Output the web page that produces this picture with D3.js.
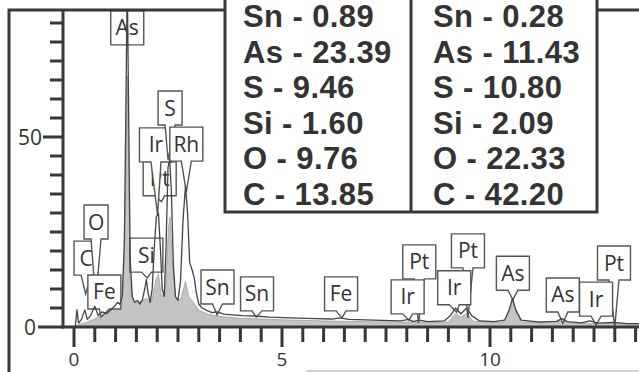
<!DOCTYPE html>
<html>
<head>
<meta charset="utf-8">
<script src="https://cdn.jsdelivr.net/npm/d3@7"></script>
<style>
  body { margin: 0; background: #fff; }
  svg { display: block; }
</style>
</head>
<body>
<div id="chart"></div>
<script>
// spectrum with peaks (outline trace), [keV, counts]
const lineSpectrum = [
  [0.03, 0], [0.07, 4.5], [0.11, 1], [0.18, 2], [0.26, 4.5], [0.32, 2], [0.40, 3],
  [0.50, 5.5], [0.58, 3], [0.68, 4], [0.78, 3.5], [0.88, 4.5], [0.98, 5.5], [1.05, 6.5],
  [1.10, 6], [1.16, 8], [1.21, 22], [1.25, 60], [1.28, 92], [1.31, 60], [1.35, 18],
  [1.40, 8], [1.46, 6.5], [1.52, 7], [1.58, 6], [1.64, 7], [1.70, 10], [1.74, 12.5],
  [1.78, 9], [1.83, 6.5], [1.88, 10], [1.93, 21], [1.98, 29], [2.03, 30], [2.08, 20],
  [2.12, 10], [2.17, 8], [2.21, 20], [2.26, 42], [2.30, 44], [2.34, 36], [2.39, 16],
  [2.44, 8], [2.50, 7], [2.56, 12], [2.62, 28], [2.68, 37], [2.73, 30], [2.78, 17],
  [2.84, 15], [2.89, 13], [2.94, 9], [3.00, 6], [3.08, 5], [3.20, 4.3], [3.32, 3.8],
  [3.44, 4.0], [3.60, 3.4], [3.80, 3.2], [4.05, 3.0], [4.35, 2.9], [4.70, 2.6],
  [5.20, 2.4], [5.80, 2.2], [6.20, 2.1], [6.40, 2.4], [6.60, 2.0], [7.20, 1.8],
  [7.85, 1.6], [8.05, 2.0], [8.15, 1.4], [8.30, 1.8], [8.50, 1.4], [8.90, 1.6],
  [9.05, 3.0], [9.17, 5], [9.30, 3.5], [9.44, 5], [9.56, 3.0], [9.75, 1.6],
  [10.10, 1.4], [10.35, 1.8], [10.46, 4.5], [10.54, 7.5], [10.62, 4.5], [10.75, 1.8],
  [11.20, 1.3], [11.60, 1.5], [11.73, 2.2], [11.86, 1.4], [12.20, 1.1], [12.40, 1.6],
  [12.60, 1.0], [12.97, 1.2], [13.30, 0.9], [13.70, 0.9]
];

// second spectrum (grey filled), [keV, counts]
const fillSpectrum = [
  [0.03, 0], [0.10, 0.6], [0.30, 1.2], [0.50, 2.2], [0.70, 3.2], [0.90, 4.5],
  [1.05, 6], [1.16, 7.5], [1.21, 18], [1.25, 45], [1.28, 66], [1.31, 45], [1.35, 12],
  [1.42, 6.5], [1.55, 6.5], [1.74, 7.5], [1.86, 6.5], [1.96, 12], [2.03, 14],
  [2.10, 8], [2.20, 9], [2.27, 26], [2.31, 29], [2.36, 18], [2.44, 7.5], [2.56, 7],
  [2.68, 12], [2.76, 8], [2.90, 6], [3.00, 4.5], [3.20, 3.4], [3.50, 2.8],
  [4.00, 2.3], [5.00, 1.9], [6.00, 1.6], [7.00, 1.4], [8.00, 1.3], [9.00, 1.3],
  [9.17, 3.5], [9.30, 2.6], [9.44, 3.6], [9.60, 1.5], [10.30, 1.2], [10.46, 4],
  [10.54, 7], [10.62, 4], [10.75, 1.3], [11.73, 1.5], [12.00, 1.0], [13.70, 0.8]
];

// peak labels: element, box centre keV, box top (counts), tip keV, tip counts
const peakLabels = [
  ["Pt", 2.06, 43.5, 2.10, 33],
  ["Ir", 1.97, 52.4, 2.01, 29.5],
  ["S", 2.31, 62.1, 2.26, 44],
  ["Rh", 2.70, 52.6, 2.70, 35.5],
  ["C", 0.29, 22.6, 0.28, 8.7],
  ["O", 0.53, 32.1, 0.52, 7],
  ["Fe", 0.73, 13.7, 0.65, 2.6],
  ["Si", 1.74, 23.4, 1.76, 12.9],
  ["Sn", 3.45, 15, 3.44, 3.2],
  ["Sn", 4.40, 13.2, 4.38, 2.6],
  ["Fe", 6.42, 13.2, 6.44, 2.4],
  ["Pt", 8.30, 21.6, 8.28, 1.0],
  ["Ir", 8.02, 12.4, 8.05, 1.8],
  ["Pt", 9.47, 24.5, 9.47, 2.4],
  ["Ir", 9.14, 14.8, 9.20, 3.9],
  ["As", 10.55, 18.6, 10.55, 7.2],
  ["As", 11.75, 12.9, 11.75, 1.0],
  ["Pt", 12.98, 21.3, 13.00, 0],
  ["Ir", 12.55, 11.8, 12.55, 0.5],
  ["As", 1.28, 83.2, 1.28, 74.5]
];

// composition table
const tableElements = ["Sn", "As", "S", "Si", "O", "C"];
const sampleA = ["0.89", "23.39", "9.46", "1.60", "9.76", "13.85"];
const sampleB = ["0.28", "11.43", "10.80", "2.09", "22.33", "42.20"];

const xTicks = d3.range(0, 13.51, 0.5);
const xLabels = [0, 5, 10];
const yTicks = d3.range(0, 80.1, 5);
const yLabels = [0, 50];

const W = 639, H = 372;
const dark = "#383838";

const svg = d3.select("#chart").append("svg")
  .attr("width", W).attr("height", H);

const x = d3.scaleLinear().domain([0, 10]).range([74, 490]);
const y = d3.scaleLinear().domain([0, 50]).range([327, 137]);

const plotTop = 10, axisX = 63;

svg.append("clipPath").attr("id", "plot")
  .append("rect").attr("x", axisX).attr("y", plotTop)
  .attr("width", W - axisX).attr("height", y(0) - plotTop);

// grey filled spectrum
const area = d3.area().x(d => x(d[0])).y0(y(0)).y1(d => y(d[1]));
svg.append("path")
  .datum(fillSpectrum)
  .attr("clip-path", "url(#plot)")
  .attr("d", area)
  .attr("fill", "#c4c4c4")
  .attr("stroke", "#a0a0a0")
  .attr("stroke-width", 0.8);

// peak callouts
const callouts = svg.append("g").attr("font-family", "'Open Sans', 'DejaVu Sans', sans-serif")
  .attr("font-size", 21);
peakLabels.forEach(function (p) {
  const cx = x(p[1]);
  const top = y(p[2]);
  const w = p[0].length > 1 ? 33 : 24;
  const h = 34;
  const x0 = cx - w / 2, x1 = cx + w / 2, y1 = top + h;
  const tx = x(p[3]), ty = y(p[4]);
  let d;
  if (ty > y1 + 1) {
    d = `M${x0},${top}H${x1}V${y1}H${cx + 5}L${tx},${ty}L${cx - 5},${y1}H${x0}Z`;
  } else {
    d = `M${x0},${top}H${x1}V${y1}H${x0}Z`;
  }
  callouts.append("path")
    .attr("d", d)
    .attr("fill", "#fff")
    .attr("stroke", "#555")
    .attr("stroke-width", 1.4)
    .attr("stroke-linejoin", "miter");
  callouts.append("text")
    .attr("x", cx)
    .attr("y", top + h / 2 + 7.5)
    .attr("text-anchor", "middle")
    .attr("fill", "#333")
    .text(p[0]);
});

// outline spectrum
const line = d3.line().x(d => x(d[0])).y(d => y(d[1]));
svg.append("path")
  .datum(lineSpectrum)
  .attr("clip-path", "url(#plot)")
  .attr("d", line)
  .attr("fill", "none")
  .attr("stroke", "#444")
  .attr("stroke-width", 1.3)
  .attr("stroke-linejoin", "round");

// axes
const axes = svg.append("g").attr("stroke", dark).attr("stroke-width", 3);
axes.append("line").attr("x1", axisX).attr("x2", axisX).attr("y1", plotTop).attr("y2", y(0) + 1.5);
axes.append("line").attr("x1", axisX - 1.5).attr("x2", W).attr("y1", y(0)).attr("y2", y(0));

axes.selectAll(".yt").data(yTicks).enter().append("line")
  .attr("x1", d => d === 0 ? 38 : (yLabels.includes(d) ? 43 : 50))
  .attr("x2", axisX)
  .attr("y1", d => y(d)).attr("y2", d => y(d));

axes.selectAll(".xt").data(xTicks).enter().append("line")
  .attr("x1", d => x(d)).attr("x2", d => x(d))
  .attr("y1", y(0))
  .attr("y2", d => xLabels.includes(d) ? 347 : 342);

const tickFont = "'Open Sans', 'DejaVu Sans', sans-serif";
svg.selectAll(".yl").data(yLabels).enter().append("text")
  .attr("x", d => d === 0 ? 36 : 42)
  .attr("y", d => y(d) + 8)
  .attr("text-anchor", "end")
  .attr("font-family", tickFont).attr("font-size", 21)
  .attr("fill", "#333")
  .text(d => d);

svg.selectAll(".xl").data(xLabels).enter().append("text")
  .attr("x", d => x(d))
  .attr("y", 366)
  .attr("text-anchor", "middle")
  .attr("font-family", tickFont).attr("font-size", 19)
  .attr("fill", "#333")
  .text(d => d);

// light rule under the axis labels
svg.append("line").attr("x1", 306).attr("x2", W).attr("y1", 371).attr("y2", 371)
  .attr("stroke", "#aaa").attr("stroke-width", 1.2);

// outer frame
const frame = svg.append("g").attr("stroke", dark).attr("stroke-width", 3).attr("fill", "none");
frame.append("path").attr("d", `M9,${H}V10H225`);
frame.append("path").attr("d", `M597,10H${W}`);

// table
const tLeft = 225, tRight = 597, tMid = 411, tBottom = 212;
frame.append("path").attr("d", `M${tLeft},-5V${tBottom}H${tRight}V-5`)
  .attr("fill", "#fff");
frame.append("line").attr("x1", tMid).attr("x2", tMid).attr("y1", -5).attr("y2", tBottom);

const rowY = d3.scaleLinear().domain([0, 5]).range([27, 205]);
const tbl = svg.append("g")
  .attr("font-family", "'Liberation Sans', Arial, sans-serif")
  .attr("font-weight", "bold").attr("font-size", 31).attr("fill", "#333")
  .attr("letter-spacing", 0.4);
tableElements.forEach(function (el, i) {
  tbl.append("text").attr("x", 243).attr("y", rowY(i)).text(el + " - " + sampleA[i]);
  tbl.append("text").attr("x", 433).attr("y", rowY(i)).text(el + " - " + sampleB[i]);
});
</script>
</body>
</html>
